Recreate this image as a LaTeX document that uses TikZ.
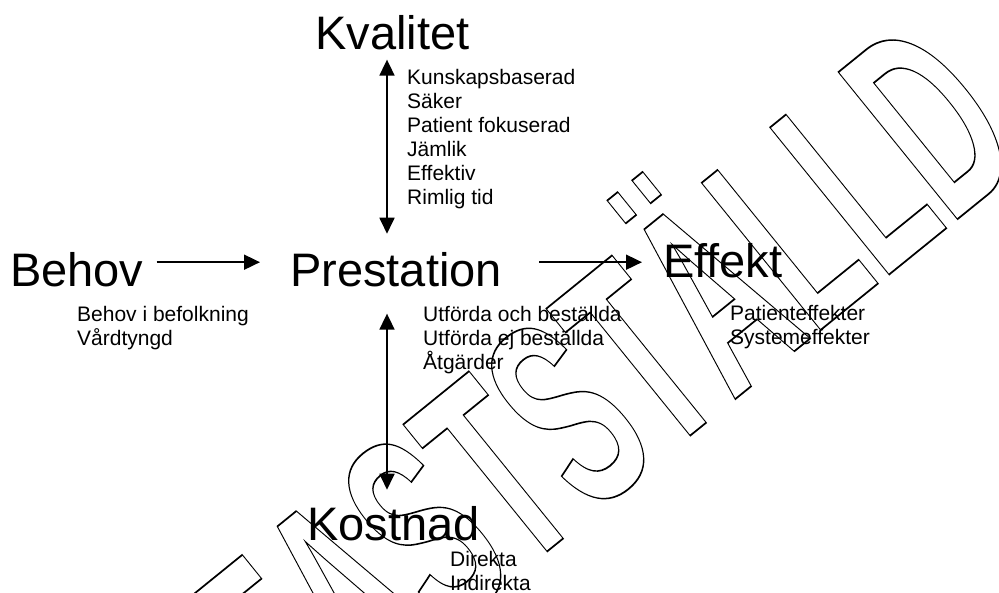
\documentclass[tikz,border=0pt]{standalone}
\usepackage{fontspec}
\setmainfont{Liberation Sans}
\newfontfamily\stampfont[Kerning=Off]{Liberation Sans}
\usetikzlibrary{arrows.meta}

\tikzset{
  head/.style={font=\fontsize{47}{56}\selectfont, inner sep=0pt, anchor=base west},
  list/.style={font=\fontsize{21}{24}\selectfont, inner sep=0pt, anchor=base west, align=left},
  arr/.style={line width=1.8pt, -{Triangle[length=16pt,width=15pt]}},
  dbl/.style={line width=1.8pt, {Triangle[length=16pt,width=15pt]}-{Triangle[length=16pt,width=15pt]}},
}
% outlined letters for the stamp
\newcommand{\outlined}[1]{\special{pdf:literal direct 1 Tr 0.9 w}#1\special{pdf:literal direct 0 Tr}}

\begin{document}
\begin{tikzpicture}[x=1pt,y=-1pt]
  \useasboundingbox (0,0) rectangle (999,593);
  % stamp
  \begin{scope}[shift={(297,754)},rotate=39,yscale=1.91]
    \node[transform shape,inner sep=0pt,anchor=base west] (stamp) at (0,0)
      {\stampfont\bfseries\fontsize{144}{150}\selectfont\outlined{FASTSTÄLLD}};
  \end{scope}
  % headings
  \node[head] (kvalitet) at (315,50) {Kvalitet};
  \node[head] (behov) at (10,287) {Behov};
  \node[head] (prestation) at (290,287) {Prestation};
  \node[head] (effekt) at (663,278) {Effekt};
  \node[head] (kostnad) at (307,540) {Kostnad};
  % lists (base = last line)
  \node[list] (kvalitetlist) at (407,205) {Kunskapsbaserad\\Säker\\Patient fokuserad\\Jämlik\\Effektiv\\Rimlig tid};
  \node[list] (behovlist) at (77,346) {Behov i befolkning\\Vårdtyngd};
  \node[list] (prestationlist) at (423,370) {Utförda och beställda\\Utförda ej beställda\\Åtgärder};
  \node[list] (effektlist) at (730,345) {Patienteffekter\\Systemeffekter};
  \node[list] (kostnadlist) at (450,590) {Direkta\\Indirekta};
  % arrows
  \draw[arr] ([xshift=13pt,yshift=8pt]behov.east) -- ([xshift=-30pt,yshift=8pt]prestation.west);
  \coordinate (pe) at ([xshift=37pt,yshift=8pt]prestation.east);
  \draw[arr,shorten >=21pt] (pe) -- (pe -| effekt.west);
  \draw[dbl] ([xshift=72pt,yshift=-9pt]kvalitet.south west) -- ([xshift=97pt,yshift=19pt]prestation.north west);
  \draw[dbl] ([xshift=97pt,yshift=-26pt]prestation.south west) -- ([xshift=80pt,yshift=16pt]kostnad.north west);
\end{tikzpicture}
\end{document}
